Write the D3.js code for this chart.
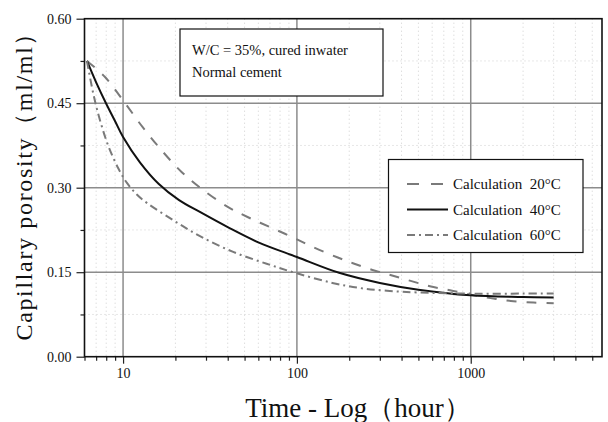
<!DOCTYPE html>
<html>
<head>
<meta charset="utf-8">
<script src="https://cdn.jsdelivr.net/npm/d3@7"></script>
<style>
    body { margin: 0; background: #fff; }
    svg { display: block; }
    text { font-family: "Liberation Serif", "Times New Roman", serif; fill: #111; }
</style>
</head>
<body>
<div id="chart"></div>
<script>
// Data (time in hours, porosity in ml/ml)
var time20 = [6.2, 7.9, 10, 13, 16.7, 21.7, 28, 40, 52, 70, 93, 123, 169, 210, 272, 345, 446, 582, 760, 1000, 1300, 1700, 2300, 3000];
var calc20 = [0.525, 0.496, 0.455, 0.407, 0.366, 0.328, 0.299, 0.266, 0.248, 0.230, 0.213, 0.195, 0.177, 0.166, 0.154, 0.145, 0.135, 0.125, 0.118, 0.110, 0.104, 0.099, 0.096, 0.095];

var time40 = [6.2, 7, 8, 9, 10, 12.5, 16, 21, 28, 40, 60, 100, 175, 300, 500, 1000, 2000, 3000];
var calc40 = [0.525, 0.487, 0.449, 0.418, 0.390, 0.345, 0.307, 0.278, 0.256, 0.230, 0.203, 0.177, 0.149, 0.131, 0.119, 0.109, 0.106, 0.105];

var time60 = [6.2, 6.75, 7.38, 8.23, 9.4, 10.5, 12, 13.7, 19.5, 27.7, 43, 67, 100, 160, 230, 330, 500, 1000, 2000, 3000];
var calc60 = [0.525, 0.466, 0.419, 0.374, 0.334, 0.309, 0.288, 0.273, 0.242, 0.214, 0.186, 0.165, 0.148, 0.131, 0.122, 0.117, 0.114, 0.112, 0.112, 0.112];

var seriesNames = ["Calculation  20°C", "Calculation  40°C", "Calculation  60°C"];
var yTicks = [0.00, 0.15, 0.30, 0.45, 0.60];
var yMinorTicks = [0.075, 0.225, 0.375, 0.525];
var xTicks = [10, 100, 1000];
var noteLines = ["W/C = 35%, cured inwater", "Normal cement"];

var width = 608, height = 422;
var plotLeft = 84.5, plotRight = 602, plotTop = 18.7, plotBottom = 356.7;

var svg = d3.select("#chart")
    .append("svg")
    .attr("width", width)
    .attr("height", height);

svg.append("rect").attr("width", width).attr("height", height).attr("fill", "#fff");

var x = d3.scaleLog().domain([6, 5690]).range([plotLeft, plotRight]);
var y = d3.scaleLinear().domain([0, 0.6]).range([plotBottom, plotTop]);

// minor tick values 2..9 per decade
var xMinor = [];
[1, 10, 100, 1000].forEach(function (dec) {
    for (var k = 2; k <= 9; k++) {
        var v = dec * k;
        if (v >= 6 && v <= 5690 && v !== 10 && v !== 100 && v !== 1000) xMinor.push(v);
    }
});

// faint dotted minor grid
svg.append("g").selectAll("line").data(xMinor).enter().append("line")
    .attr("x1", function (d) { return x(d); }).attr("x2", function (d) { return x(d); })
    .attr("y1", plotTop).attr("y2", plotBottom)
    .attr("stroke", "#cfcfcf").attr("stroke-width", 1).attr("stroke-dasharray", "1,3");

svg.append("g").selectAll("line").data(yMinorTicks).enter().append("line")
    .attr("x1", plotLeft).attr("x2", plotRight)
    .attr("y1", function (d) { return y(d); }).attr("y2", function (d) { return y(d); })
    .attr("stroke", "#cfcfcf").attr("stroke-width", 1).attr("stroke-dasharray", "1,3");

// major grid
svg.append("g").selectAll("line").data(xTicks).enter().append("line")
    .attr("x1", function (d) { return x(d); }).attr("x2", function (d) { return x(d); })
    .attr("y1", plotTop).attr("y2", plotBottom)
    .attr("stroke", "#8c8c8c").attr("stroke-width", 1.5);

svg.append("g").selectAll("line").data([0.15, 0.30, 0.45]).enter().append("line")
    .attr("x1", plotLeft).attr("x2", plotRight)
    .attr("y1", function (d) { return y(d); }).attr("y2", function (d) { return y(d); })
    .attr("stroke", "#8c8c8c").attr("stroke-width", 1.5);

// axes
svg.append("g")
    .attr("transform", "translate(0," + plotBottom + ")")
    .call(d3.axisBottom(x).tickValues(xTicks).tickFormat(d3.format("d")).tickSize(7).tickPadding(4));

svg.append("g")
    .attr("transform", "translate(0," + plotBottom + ")")
    .call(d3.axisBottom(x).tickValues(xMinor).tickFormat("").tickSize(4))
    .select(".domain").remove();

svg.append("g")
    .attr("transform", "translate(" + plotLeft + ",0)")
    .call(d3.axisLeft(y).tickValues(yTicks).tickFormat(d3.format(".2f")).tickSize(8).tickPadding(5));

svg.append("g")
    .attr("transform", "translate(" + plotLeft + ",0)")
    .call(d3.axisLeft(y).tickValues(yMinorTicks).tickFormat("").tickSize(4))
    .select(".domain").remove();

svg.selectAll(".tick text")
    .style("font-family", "'Liberation Serif', serif")
    .style("font-size", "14px")
    .attr("fill", "#222");
svg.selectAll(".tick line").attr("stroke", "#222").attr("stroke-width", 1.2);
svg.selectAll(".domain").attr("stroke", "none");

// frame
svg.append("rect")
    .attr("x", plotLeft).attr("y", plotTop)
    .attr("width", plotRight - plotLeft).attr("height", plotBottom - plotTop)
    .attr("fill", "none").attr("stroke", "#111").attr("stroke-width", 1.6);

// curves
var line = d3.line()
    .x(function (d) { return x(d[0]); })
    .y(function (d) { return y(d[1]); })
    .curve(d3.curveCatmullRom.alpha(0.5));

var styles = [
    { color: "#7a7a7a", dash: "10,10", width: 2 },
    { color: "#111", dash: null, width: 2 },
    { color: "#7a7a7a", dash: "8,4,2,4", width: 2 }
];
var allSeries = [d3.zip(time20, calc20), d3.zip(time40, calc40), d3.zip(time60, calc60)];

allSeries.forEach(function (s, i) {
    svg.append("path")
        .datum(s)
        .attr("d", line)
        .attr("fill", "none")
        .attr("stroke", styles[i].color)
        .attr("stroke-width", styles[i].width)
        .attr("stroke-dasharray", styles[i].dash);
});

// note box
svg.append("rect")
    .attr("x", 180).attr("y", 29).attr("width", 203).attr("height", 67)
    .attr("fill", "#fff").attr("stroke", "#111").attr("stroke-width", 1.2);

svg.selectAll(".note").data(noteLines).enter().append("text")
    .attr("x", 192)
    .attr("y", function (d, i) { return 55 + i * 22; })
    .style("font-size", "14.5px")
    .text(function (d) { return d; });

// legend
var legend = svg.append("g");
legend.append("rect")
    .attr("x", 388.5).attr("y", 159.5).attr("width", 194.5).attr("height", 93)
    .attr("fill", "#fff").attr("stroke", "#111").attr("stroke-width", 1.2);

seriesNames.forEach(function (name, i) {
    var ly = 184 + i * 25.5;
    legend.append("line")
        .attr("x1", 407).attr("x2", 448).attr("y1", ly).attr("y2", ly)
        .attr("stroke", styles[i].color)
        .attr("stroke-width", styles[i].width)
        .attr("stroke-dasharray", i === 0 ? "12,12" : styles[i].dash);
    legend.append("text")
        .attr("x", 453).attr("y", ly + 5)
        .style("font-size", "15px")
        .style("white-space", "pre")
        .text(name);
});

// axis titles
svg.append("text")
    .attr("x", 358).attr("y", 416.5)
    .attr("text-anchor", "middle")
    .style("font-size", "27px")
    .text("Time - Log（hour）");

svg.append("text")
    .attr("transform", "translate(32,181) rotate(-90)")
    .attr("text-anchor", "middle")
    .attr("textLength", 319)
    .attr("lengthAdjust", "spacing")
    .style("font-size", "24px")
    .text("Capillary porosity（ml/ml）");
</script>
</body>
</html>
